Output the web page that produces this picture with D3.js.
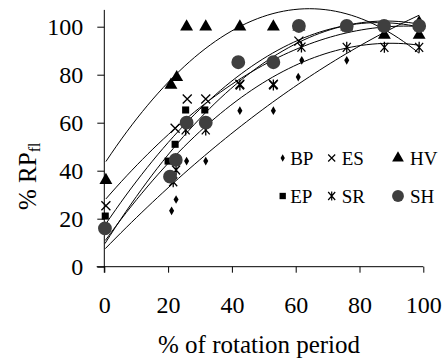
<!DOCTYPE html>
<html>
<head>
<meta charset="utf-8">
<script src="https://cdn.jsdelivr.net/npm/d3@7"></script>
<style>
  body { margin: 0; background: #fff; }
  svg { display: block; }
</style>
</head>
<body>
<svg id="chart" width="444" height="361"></svg>
<script>
// % RPfl vs % of rotation period, six sites, each with a 2nd-order trend line
var names = ['BP', 'ES', 'HV', 'EP', 'SR', 'SH']

var bpX = [0.3, 21.1, 22.5, 25.8, 31.8, 42.5, 53, 60.8, 61.9, 76, 87.7, 98.7]
var bpY = [15, 23.3, 28, 44, 44, 65, 65, 79, 86, 86, 97, 103]

var esX = [0.5, 22.2, 26, 31.8, 42.5, 53, 61, 76, 87.7, 98.7]
var esY = [25.4, 57.7, 69.9, 69.9, 76, 76, 94, 100, 100, 100]

var hvX = [0.5, 20.9, 22.7, 25.8, 31.8, 42.5, 53, 61, 76, 87.8, 98.7]
var hvY = [36, 75.7, 78.9, 100, 100, 100, 100, 100, 100, 96.5, 96.5]

var epX = [0.3, 20, 22.2, 25.5, 31.5, 42, 53, 61, 76, 87.7, 98.7]
var epY = [21.1, 44, 51, 65.3, 65.3, 85, 85, 100, 100, 100, 100]

var srX = [0.3, 21.6, 22.5, 25.5, 31.8, 42.5, 53, 61.8, 76, 87.8, 98.7]
var srY = [16, 35.4, 40.3, 57, 57, 75.7, 75.7, 91.5, 91.4, 91.4, 91.4]

var shX = [0.2, 20.6, 22.4, 25.8, 31.8, 42, 53, 61, 76, 87.7, 98.7]
var shY = [16, 37.5, 44.5, 60, 60, 85.2, 85.2, 100.3, 100.3, 100.3, 100.3]

var xTicks = [0, 20, 40, 60, 80, 100]
var yTicks = [0, 20, 40, 60, 80, 100]

var series = [
  {name: 'BP', xs: bpX, ys: bpY},
  {name: 'ES', xs: esX, ys: esY},
  {name: 'HV', xs: hvX, ys: hvY},
  {name: 'EP', xs: epX, ys: epY},
  {name: 'SR', xs: srX, ys: srY},
  {name: 'SH', xs: shX, ys: shY}
]

var serif = 'Liberation Serif'
var svg = d3.select('#chart')

var xScale = d3.scaleLinear().domain([0, 100]).range([104.3, 423.3])
var yScale = d3.scaleLinear().domain([0, 107]).range([266.7, 9.9])

// marker shapes
var cross = 'M-4.5,-4.5L4.5,4.5M-4.5,4.5L4.5,-4.5'
var star = 'M-4,-4.5L4,4.5M-4,4.5L4,-4.5M0,-5.5L0,5.5'
var markers = {
  BP: {d: d3.symbol(d3.symbolDiamond, 22)(), fill: '#000', stroke: 'none'},
  ES: {d: cross, fill: 'none', stroke: '#000'},
  HV: {d: d3.symbol(d3.symbolTriangle, 72)(), fill: '#000', stroke: 'none'},
  EP: {d: d3.symbol(d3.symbolSquare, 50)(), fill: '#000', stroke: 'none'},
  SR: {d: star, fill: 'none', stroke: '#000'},
  SH: {d: d3.symbol(d3.symbolCircle, 150)(), fill: '#3f3f3f', stroke: 'none'}
}

// least squares y = a + b x + c x^2
function quadFit(xs, ys) {
  var s = [0, 0, 0, 0, 0], t = [0, 0, 0]
  xs.forEach(function (x, i) {
    var p = 1
    for (var k = 0; k < 5; k++) { s[k] += p; if (k < 3) t[k] += p * ys[i]; p *= x }
  })
  var m = [[s[0], s[1], s[2], t[0]], [s[1], s[2], s[3], t[1]], [s[2], s[3], s[4], t[2]]]
  for (var i = 0; i < 3; i++) {
    for (var j = i + 1; j < 3; j++) {
      var f = m[j][i] / m[i][i]
      for (var k = i; k < 4; k++) m[j][k] -= f * m[i][k]
    }
  }
  var c = [0, 0, 0]
  for (var i = 2; i >= 0; i--) {
    var v = m[i][3]
    for (var k = i + 1; k < 3; k++) v -= m[i][k] * c[k]
    c[i] = v / m[i][i]
  }
  return function (x) { return c[0] + c[1] * x + c[2] * x * x }
}

var line = d3.line().x(d => xScale(d[0])).y(d => yScale(d[1]))

// axes
var xAxis = svg.append('g')
  .attr('transform', 'translate(0,266.7)')
  .call(d3.axisBottom(xScale).tickValues(xTicks).tickSize(6).tickSizeOuter(0))
xAxis.select('.domain').remove()
xAxis.append('line').attr('x1', 96.7).attr('x2', 423.3).attr('stroke', '#000')
xAxis.selectAll('.tick line').attr('stroke', '#000')
xAxis.selectAll('.tick text')
  .attr('y', 46).attr('dy', 0)
  .style('font-family', serif).style('font-size', '24px').attr('fill', '#000')

var yAxis = svg.append('g')
  .attr('transform', 'translate(104.3,0)')
  .call(d3.axisLeft(yScale).tickValues(yTicks).tickSize(7).tickPadding(14).tickSizeOuter(0))
yAxis.select('.domain').remove()
yAxis.append('line').attr('y1', 9.9).attr('y2', 272.7).attr('stroke', '#000')
yAxis.selectAll('.tick line').attr('stroke', '#000')
yAxis.selectAll('.tick text')
  .attr('dy', '0.34em')
  .style('font-family', serif).style('font-size', '24px').attr('fill', '#000')

// trend lines
series.forEach(function (s) {
  var f = quadFit(s.xs, s.ys)
  var lo = d3.min(s.xs), hi = d3.max(s.xs)
  var pts = d3.range(0, 61).map(i => { var x = lo + (hi - lo) * i / 60; return [x, f(x)] })
  svg.append('path').attr('d', line(pts))
    .attr('fill', 'none').attr('stroke', '#000').attr('stroke-width', 1)
})

// points
series.forEach(function (s) {
  var m = markers[s.name]
  svg.append('g').selectAll('path')
    .data(s.xs.map((x, i) => [x, s.ys[i]]))
    .enter()
    .append('path')
      .attr('transform', d => 'translate(' + xScale(d[0]) + ',' + yScale(d[1]) + ')')
      .attr('d', m.d)
      .attr('fill', m.fill)
      .attr('stroke', m.stroke)
      .attr('stroke-width', 1.3)
})

// legend
var legendPos = [[282.7, 158], [331.7, 158], [398, 158], [282.7, 196], [331.7, 196], [398, 196]]
var legend = svg.append('g').selectAll('g')
  .data(names)
  .enter()
  .append('g')
    .attr('transform', (d, i) => 'translate(' + legendPos[i][0] + ',' + legendPos[i][1] + ')')
legend.append('path')
  .attr('d', d => d === 'BP' ? d3.symbol(d3.symbolDiamond, 16)() :
    d === 'SH' ? d3.symbol(d3.symbolCircle, 110)() :
    d === 'HV' ? d3.symbol(d3.symbolTriangle, 60)() :
    d === 'EP' ? d3.symbol(d3.symbolSquare, 40)() :
    d === 'ES' ? 'M-3.5,-3.5L3.5,3.5M-3.5,3.5L3.5,-3.5' : 'M-3.5,-4L3.5,4M-3.5,4L3.5,-4M0,-4.5L0,4.5')
  .attr('fill', d => markers[d].fill)
  .attr('stroke', d => markers[d].stroke)
  .attr('stroke-width', 1.2)
legend.append('text')
  .attr('x', d => d === 'BP' || d === 'EP' ? 7.5 : d === 'HV' || d === 'SH' ? 12 : 10)
  .attr('y', 6.7)
  .style('font-family', serif).style('font-size', '19px')
  .attr('fill', '#000')
  .text(d => d)

// axis titles
svg.append('text')
  .attr('x', 259).attr('y', 353)
  .attr('text-anchor', 'middle')
  .style('font-family', serif).style('font-size', '25px')
  .text('% of rotation period')

var yt = svg.append('text')
  .attr('transform', 'translate(36,210) rotate(-90)')
  .style('font-family', serif).style('font-size', '25px')
yt.append('tspan').text('%  RP')
yt.append('tspan').style('font-size', '16px').attr('dy', 4).text('fl')
</script>
</body>
</html>
